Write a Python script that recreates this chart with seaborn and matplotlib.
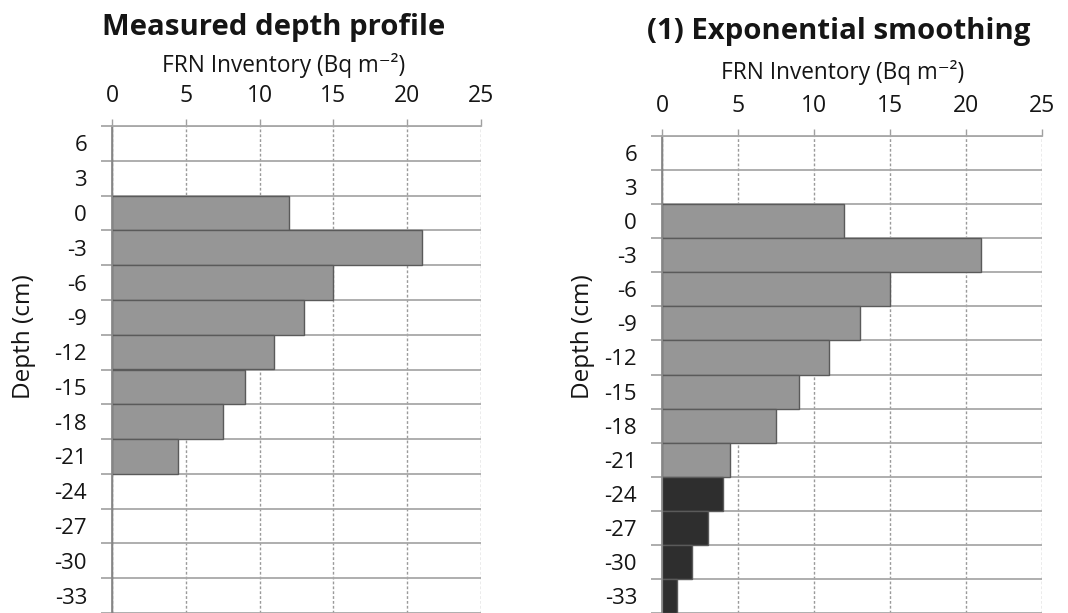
import matplotlib
matplotlib.use("Agg")
import matplotlib.pyplot as plt
import numpy as np
import pandas as pd
import seaborn as sns
from matplotlib.ticker import FixedLocator

depth_labels = ["6", "3", "0", "-3", "-6", "-9", "-12", "-15", "-18", "-21",
                "-24", "-27", "-30", "-33"]
measured_inventory = [0, 0, 12, 21, 15, 13, 11, 9, 7.5, 4.5, 0, 0, 0, 0]
smoothed_inventory = [0, 0, 12, 21, 15, 13, 11, 9, 7.5, 4.5, 4, 3, 2, 1]
smoothed_source = ["measured"] * 10 + ["extrapolated"] * 4
x_ticks = [0, 5, 10, 15, 20, 25]

FONT = ["Open Sans", "DejaVu Sans"]
TEXT = "#151515"
PALETTE = {"measured": "#969696", "extrapolated": "#2e2e2e"}


def draw_panel(ax, df, xlabel_xy, ylabel_xy):
    sns.barplot(
        data=df, x="inventory", y="depth", hue="source", order=depth_labels,
        palette=PALETTE, orient="h", width=1.0, dodge=False, legend=False,
        edgecolor="#5a5a5a", linewidth=1.0, saturation=1, ax=ax,
    )
    n = len(depth_labels)
    ax.set_xlim(0, 25)
    ax.set_ylim(n - 0.5, -0.5)
    ax.set_axisbelow(True)

    ax.xaxis.tick_top()
    ax.xaxis.set_label_position("top")
    ax.set_xticks(x_ticks)
    ax.set_yticks(np.arange(n))
    ax.set_yticklabels(depth_labels)
    ax.yaxis.set_minor_locator(FixedLocator(np.arange(n + 1) - 0.5))

    ax.tick_params(axis="y", which="major", length=0, pad=18, labelsize=16,
                   labelcolor=TEXT)
    ax.tick_params(axis="y", which="minor", left=True, length=8, width=1.2,
                   color="#a0a0a0", direction="out")
    ax.tick_params(axis="x", which="major", top=True, bottom=False, length=5,
                   width=1, color="#a0a0a0", direction="out", pad=8, labelsize=16.5,
                   labelcolor=TEXT)

    ax.grid(False)
    ax.grid(axis="y", which="minor", color="#a8a8a8", linewidth=1.3, linestyle="-")
    ax.grid(axis="x", which="major", color="#9a9a9a", linewidth=1.0, linestyle=(0, (2, 1.5)))

    for side in ["right", "bottom"]:
        ax.spines[side].set_visible(False)
    ax.spines["left"].set_color("#8a8a8a")
    ax.spines["left"].set_linewidth(1.3)
    ax.spines["top"].set_color("#a8a8a8")
    ax.spines["top"].set_linewidth(1.3)

    ax.set_xlabel("FRN Inventory (Bq m\u207b\u00b2)", fontsize=16.3, family=FONT, color=TEXT)
    ax.xaxis.set_label_coords(*xlabel_xy)
    ax.set_ylabel("Depth (cm)", fontsize=17.5, family=FONT, color=TEXT)
    ax.yaxis.set_label_coords(*ylabel_xy)
    for lab in ax.get_xticklabels() + ax.get_yticklabels():
        lab.set_family(FONT)


sns.set_theme(style="white")
plt.rcParams["font.family"] = FONT

measured_df = pd.DataFrame({
    "depth": depth_labels,
    "inventory": measured_inventory,
    "source": ["measured"] * len(depth_labels),
})
smoothed_df = pd.DataFrame({
    "depth": depth_labels,
    "inventory": smoothed_inventory,
    "source": smoothed_source,
})

fig = plt.figure(figsize=(10.68, 6.13), dpi=100)
fig.patch.set_facecolor("white")
W, H = 1068, 613
ax1 = fig.add_axes([112 / W, 0, (481 - 112) / W, 1 - 126 / H])
ax2 = fig.add_axes([662 / W, 0, (1042 - 662) / W, 1 - 136 / H])

draw_panel(ax1, measured_df, (0.466, 1.111), (-0.205, 0.567))
draw_panel(ax2, smoothed_df, (0.476, 1.120), (-0.176, 0.579))

fig.text(274 / W, 1 - 27 / H, "Measured depth profile", ha="center", va="center",
         fontsize=21.2, fontweight="bold", family=FONT, color=TEXT)
fig.text(839 / W, 1 - 32 / H, "(1) Exponential smoothing", ha="center", va="center",
         fontsize=21.2, fontweight="bold", family=FONT, color=TEXT)

fig.savefig("out.png", dpi=100)
